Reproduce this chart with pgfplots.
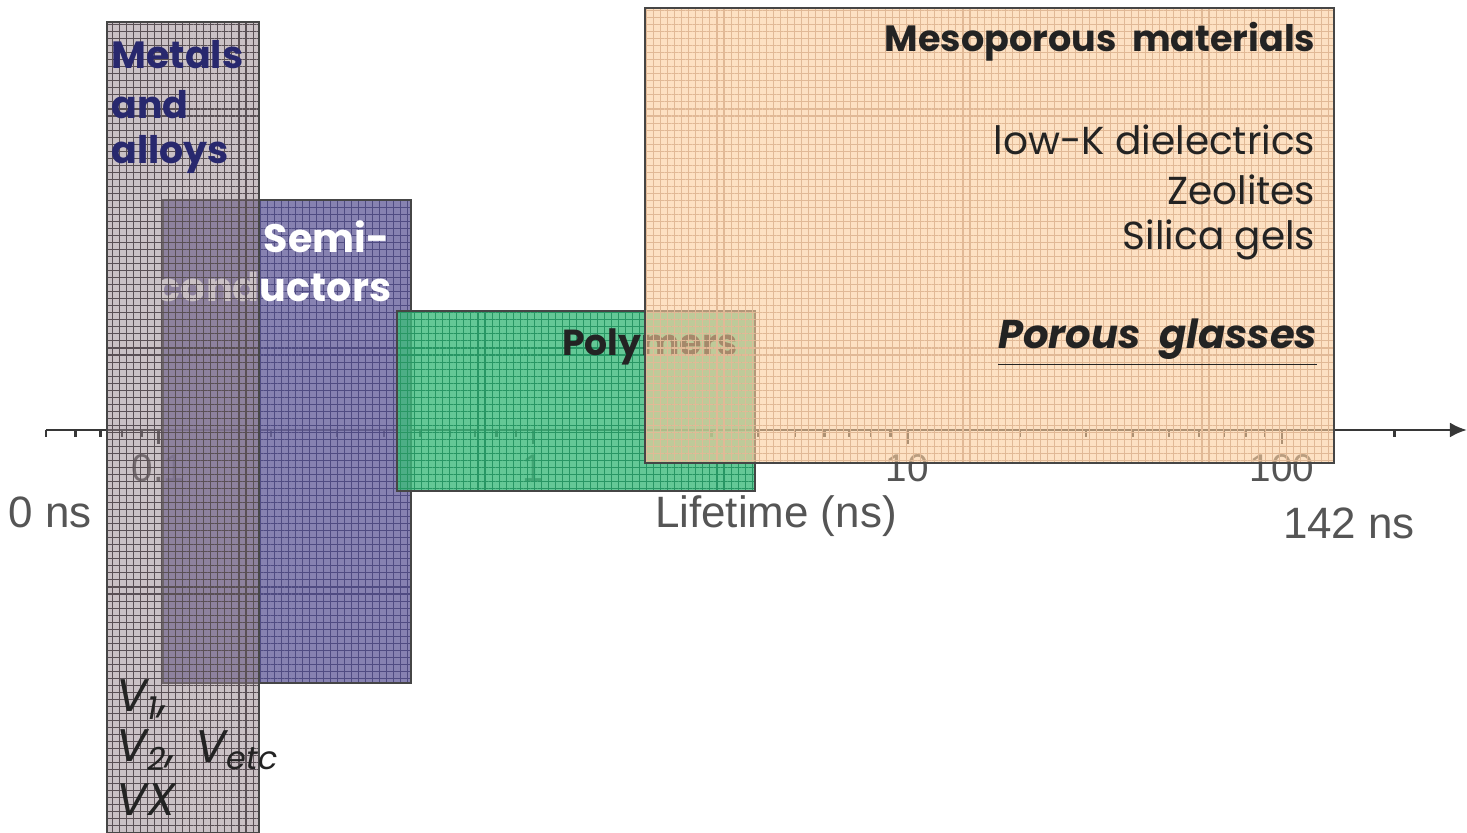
\documentclass[border=0pt]{standalone}
\usepackage{fontspec}
\setmainfont{Liberation Sans}
\newfontfamily\comic{Poppins}
\usepackage{pgfplots}
\pgfplotsset{compat=1.18}
\usetikzlibrary{patterns.meta,arrows.meta}
\definecolor{axisgrey}{RGB}{55,55,55}
\definecolor{labelgrey}{RGB}{85,85,85}
\definecolor{edge}{RGB}{70,70,70}
\definecolor{metal}{RGB}{150,132,140}
\definecolor{metalgrid}{RGB}{90,80,85}
\definecolor{semi}{RGB}{108,102,160}
\definecolor{semigrid}{RGB}{80,76,130}
\definecolor{poly}{RGB}{61,186,124}
\definecolor{polygrid}{RGB}{40,150,100}
\definecolor{meso}{RGB}{252,205,155}
\definecolor{mesogrid}{RGB}{225,185,150}
\definecolor{navy}{RGB}{40,40,110}
\definecolor{dark}{RGB}{35,35,35}
\begin{document}
\begin{tikzpicture}
\begin{axis}[
  scale only axis, width=14.212cm, height=8.33cm,
  xmode=log, xmin=0.05, xmax=312, ymin=-403, ymax=430,
  axis x line=middle, axis y line=none, clip=false,
  x axis line style={-{Latex[length=0.17cm,width=0.15cm]}, line width=0.8pt, color=axisgrey},
  xtick={0.1,1,10,100}, xticklabels={0.1,1,10,100},
  minor xtick={0.05,0.06,0.07,0.08,0.09,0.2,0.3,0.4,0.5,0.6,0.7,0.8,0.9,2,3,4,5,6,7,8,9,20,30,40,50,60,70,80,90,200},
  tick align=outside,
  major tick length=0.14cm, minor tick length=0.07cm,
  every tick/.style={color=axisgrey, line width=0.7pt},
  xticklabel style={font=\fontsize{11}{13}\selectfont, color=labelgrey, yshift=0.02cm},
  xlabel={}, ylabel={},
]
% Semiconductors
\addplot[draw=edge, line width=0.5pt, fill=semi, fill opacity=0.82,
  postaction={pattern={Hatch[angle=0,distance=2pt,line width=0.3pt]}, pattern color=semigrid, fill opacity=0.45}]
  coordinates {(0.1028,-253) (0.4723,-253) (0.4723,230) (0.1028,230)} -- cycle;
\node[anchor=east, inner sep=0pt, text=white, font=\comic\bfseries\fontsize{11.3}{13}\selectfont] at (rel axis cs:0.2422,0.7155) {Semi-};
\node[anchor=east, inner sep=0pt, text=white, font=\comic\bfseries\fontsize{11.3}{13}\selectfont] at (rel axis cs:0.2436,0.6555) {conductors};
% Polymers
\addplot[draw=edge, line width=0.5pt, fill=poly, fill opacity=0.8,
  postaction={pattern={Hatch[angle=0,distance=2pt,line width=0.3pt]}, pattern color=polygrid, fill opacity=0.45}]
  coordinates {(0.4334,-61) (3.916,-61) (3.916,119) (0.4334,119)} -- cycle;
\node[text=dark, inner sep=0pt, font=\comic\bfseries\fontsize{10.3}{12}\selectfont] at (rel axis cs:0.4251,0.5834) {Polymers};
% Metals and alloys
\addplot[draw=edge, line width=0.5pt, fill=metal, fill opacity=0.5,
  postaction={pattern={Hatch[angle=0,distance=2pt,line width=0.3pt]}, pattern color=metalgrid, fill opacity=0.25}]
  coordinates {(0.0729,-403) (0.1855,-403) (0.1855,408) (0.0729,408)} -- cycle;
% Mesoporous materials
\addplot[draw=edge, line width=0.5pt, fill=meso, fill opacity=0.6,
  postaction={pattern={Hatch[angle=0,distance=2pt,line width=0.3pt]}, pattern color=mesogrid, fill opacity=0.3}]
  coordinates {(1.991,-33) (137.7,-33) (137.7,422) (1.991,422)} -- cycle;
% Texts
\node[anchor=west, inner sep=0pt, text=navy, font=\comic\bfseries\fontsize{10.8}{13}\selectfont] at (rel axis cs:0.0457,0.934) {Metals};
\node[anchor=west, inner sep=0pt, text=navy, font=\comic\bfseries\fontsize{10.8}{13}\selectfont] at (rel axis cs:0.0457,0.874) {and};
\node[anchor=west, inner sep=0pt, text=navy, font=\comic\bfseries\fontsize{10.8}{13}\selectfont] at (rel axis cs:0.0457,0.814) {alloys};
\node[anchor=east, inner sep=0pt, text=dark, font=\comic\bfseries\fontsize{10.4}{13}\selectfont] at (rel axis cs:0.8938,0.9496) {Mesoporous\ \ materials};
\node[anchor=east, inner sep=0pt, text=dark, font=\comic\fontsize{11.1}{14}\selectfont] at (rel axis cs:0.8938,0.8319) {low-K dielectrics};
\node[anchor=east, inner sep=0pt, text=dark, font=\comic\fontsize{11.1}{14}\selectfont] at (rel axis cs:0.8938,0.7719) {Zeolites};
\node[anchor=east, inner sep=0pt, text=dark, font=\comic\fontsize{11.1}{14}\selectfont] at (rel axis cs:0.8938,0.7119) {Silica gels};
\node[anchor=east, inner sep=0pt, text=dark, font=\comic\bfseries\itshape\fontsize{11.4}{14}\selectfont] at (rel axis cs:0.8952,0.5882) {\underline{Porous\ \ glasses}};
\node[anchor=west, inner sep=0pt, text=dark, font=\comic\itshape\fontsize{13}{15}\selectfont] at (rel axis cs:0.0490,0.1597) {V\textsubscript{1},};
\node[anchor=west, inner sep=0pt, text=dark, font=\comic\itshape\fontsize{13}{15}\selectfont] at (rel axis cs:0.0490,0.0996) {V\textsubscript{2},};
\node[anchor=west, inner sep=0pt, text=dark, font=\comic\itshape\fontsize{13}{15}\selectfont] at (rel axis cs:0.1050,0.0996) {V\textsubscript{etc}};
\node[anchor=west, inner sep=0pt, text=dark, font=\comic\itshape\fontsize{13}{15}\selectfont] at (rel axis cs:0.0490,0.0396) {VX};
\node[text=labelgrey, font=\fontsize{12.5}{14}\selectfont] at (rel axis cs:0.003,0.3854) {0 ns};
\node[text=labelgrey, font=\fontsize{12.5}{14}\selectfont] at (rel axis cs:0.917,0.372) {142 ns};
\node[text=labelgrey, font=\fontsize{12.5}{14}\selectfont] at (rel axis cs:0.5137,0.3800) {Lifetime (ns)};
\coordinate (bl) at (rel axis cs:-0.03223,0);
\coordinate (tr) at (rel axis cs:1,1);
\end{axis}
\pgfresetboundingbox
\path (bl) rectangle (tr);
\end{tikzpicture}
\end{document}
